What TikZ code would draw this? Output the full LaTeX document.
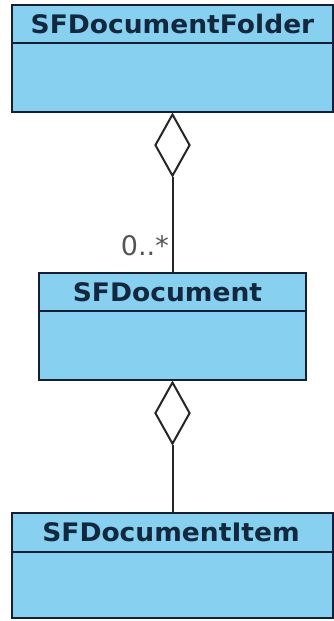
\documentclass[tikz,border=0pt]{standalone}
\usepackage{fontspec}
\setmainfont{DejaVu Sans}
\usetikzlibrary{shapes.geometric}
\definecolor{boxfill}{RGB}{135,208,240}
\definecolor{boxline}{RGB}{22,32,52}
\definecolor{titletext}{RGB}{18,40,62}
\definecolor{labelgray}{RGB}{85,85,85}
\newcommand{\widetitle}[1]{\scalebox{1.04}[1]{#1}}
\tikzset{
  classbox/.style={draw=boxline, fill=boxfill, line width=2.2pt, inner sep=0pt},
  classtitle/.style={font=\bfseries\fontsize{25.5}{28}\selectfont, text=titletext, inner sep=0pt, anchor=center},
  sepline/.style={draw=boxline, line width=2.2pt},
  aggdiamond/.style={diamond, draw=black!85, line width=2pt, fill=white, minimum width=35pt, minimum height=62pt, inner sep=0pt, anchor=north},
  assoc/.style={draw=black!85, line width=2pt},
  mult/.style={font=\fontsize{27}{30}\selectfont, text=labelgray, inner sep=0pt}
}
\begin{document}
\begin{tikzpicture}[x=1pt,y=-1pt]
\useasboundingbox (0,0) rectangle (334,621);
% boxes
\node[classbox, minimum width=321pt, minimum height=107pt] (b1) at (172.5,58.5) {};
\node[classbox, minimum width=267pt, minimum height=107pt] (b2) at (172.5,326.5) {};
\node[classbox, minimum width=321pt, minimum height=105pt] (b3) at (172.5,565.5) {};
% separators
\coordinate (s1) at (172.5,43);
\coordinate (s2) at (172.5,311);
\coordinate (s3) at (172.5,552);
\draw[sepline] (b1.west |- s1) -- (b1.east |- s1);
\draw[sepline] (b2.west |- s2) -- (b2.east |- s2);
\draw[sepline] (b3.west |- s3) -- (b3.east |- s3);
% titles
\node[classtitle] (t1) at (172.5,24) {\widetitle{SFDocumentFolder}};
\node[classtitle] (t2) at (167.5,292) {\widetitle{SFDocument}};
\node[classtitle] (t3) at (171,532.5) {\widetitle{SFDocumentItem}};
% aggregations
\node[aggdiamond] (d1) at (b1.south) {};
\node[aggdiamond] (d2) at (b2.south) {};
\draw[assoc] (d1.south) -- (b2.north);
\draw[assoc] (d2.south) -- (b3.north);
\node[mult, anchor=east] (m1) at (169,246) {0..*};
\end{tikzpicture}
\end{document}
